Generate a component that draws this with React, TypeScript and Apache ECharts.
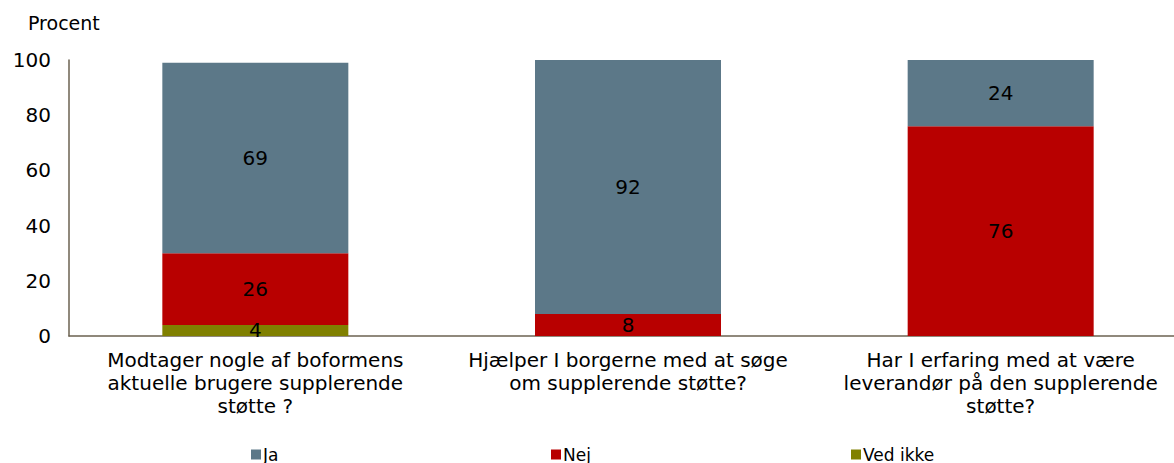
import React, { useEffect, useRef } from "react";
import * as echarts from "echarts";

const categories = [
  "Modtager nogle af boformens\naktuelle brugere supplerende\nstøtte ?",
  "Hjælper I borgerne med at søge\nom supplerende støtte?",
  "Har I erfaring med at være\nleverandør på den supplerende\nstøtte?",
];
const vedIkke = [4, null, null];
const nej = [26, 8, 76];
const ja = [69, 92, 24];
const yTicks = [0, 20, 40, 60, 80, 100];

const FONT = "DejaVu Sans";

export default function App() {
  const ref = useRef<HTMLDivElement>(null);
  useEffect(() => {
    const chart = echarts.init(ref.current!, null, { renderer: "svg" });
    const labelStyle = {
      show: true,
      position: "inside" as const,
      color: "#000",
      fontFamily: FONT,
      fontSize: 20,
    };
    const legendBase = {
      top: 441,
      itemWidth: 10,
      itemHeight: 10,
      icon: "rect",
      textStyle: { fontFamily: FONT, fontSize: 17, color: "#000", padding: [0, 0, 0, -3] },
    };
    chart.setOption({
      animation: false,
      backgroundColor: "#fff",
      title: {
        text: "Procent",
        left: 23,
        top: 8,
        textStyle: { fontFamily: FONT, fontSize: 19, fontWeight: "normal", color: "#000" },
      },
      legend: [
        { ...legendBase, data: ["Ja"], left: 246 },
        { ...legendBase, data: ["Nej"], left: 546 },
        { ...legendBase, data: ["Ved ikke"], left: 846 },
      ],
      grid: {
        left: 69,
        right: -13,
        top: 60,
        bottom: 127,
        containLabel: false,
        outerBoundsMode: "none",
      },
      xAxis: {
        type: "category",
        data: categories,
        axisLine: { lineStyle: { color: "#6b6250", width: 1.5 } },
        axisTick: { show: false },
        axisLabel: {
          interval: 0,
          fontFamily: FONT,
          fontSize: 20,
          color: "#000",
          lineHeight: 23,
          margin: 12,
        },
      },
      yAxis: {
        type: "value",
        min: yTicks[0],
        max: yTicks[yTicks.length - 1],
        interval: 20,
        splitLine: { show: false },
        axisLine: { show: true, lineStyle: { color: "#6b6250", width: 1.5 } },
        axisTick: { show: false },
        axisLabel: { fontFamily: FONT, fontSize: 20, color: "#000", margin: 18 },
      },
      series: [
        {
          name: "Ved ikke",
          type: "bar",
          stack: "a",
          data: vedIkke,
          barWidth: 186,
          itemStyle: { color: "#808000" },
          label: labelStyle,
        },
        {
          name: "Nej",
          type: "bar",
          stack: "a",
          data: nej,
          barWidth: 186,
          itemStyle: { color: "#B80000" },
          label: labelStyle,
        },
        {
          name: "Ja",
          type: "bar",
          stack: "a",
          data: ja,
          barWidth: 186,
          itemStyle: { color: "#5C7888" },
          label: labelStyle,
        },
      ],
    });
    return () => chart.dispose();
  }, []);
  return (
    <div
      ref={ref}
      style={{ position: "absolute", left: 0, top: 0, width: 1174, height: 463 }}
    />
  );
}
